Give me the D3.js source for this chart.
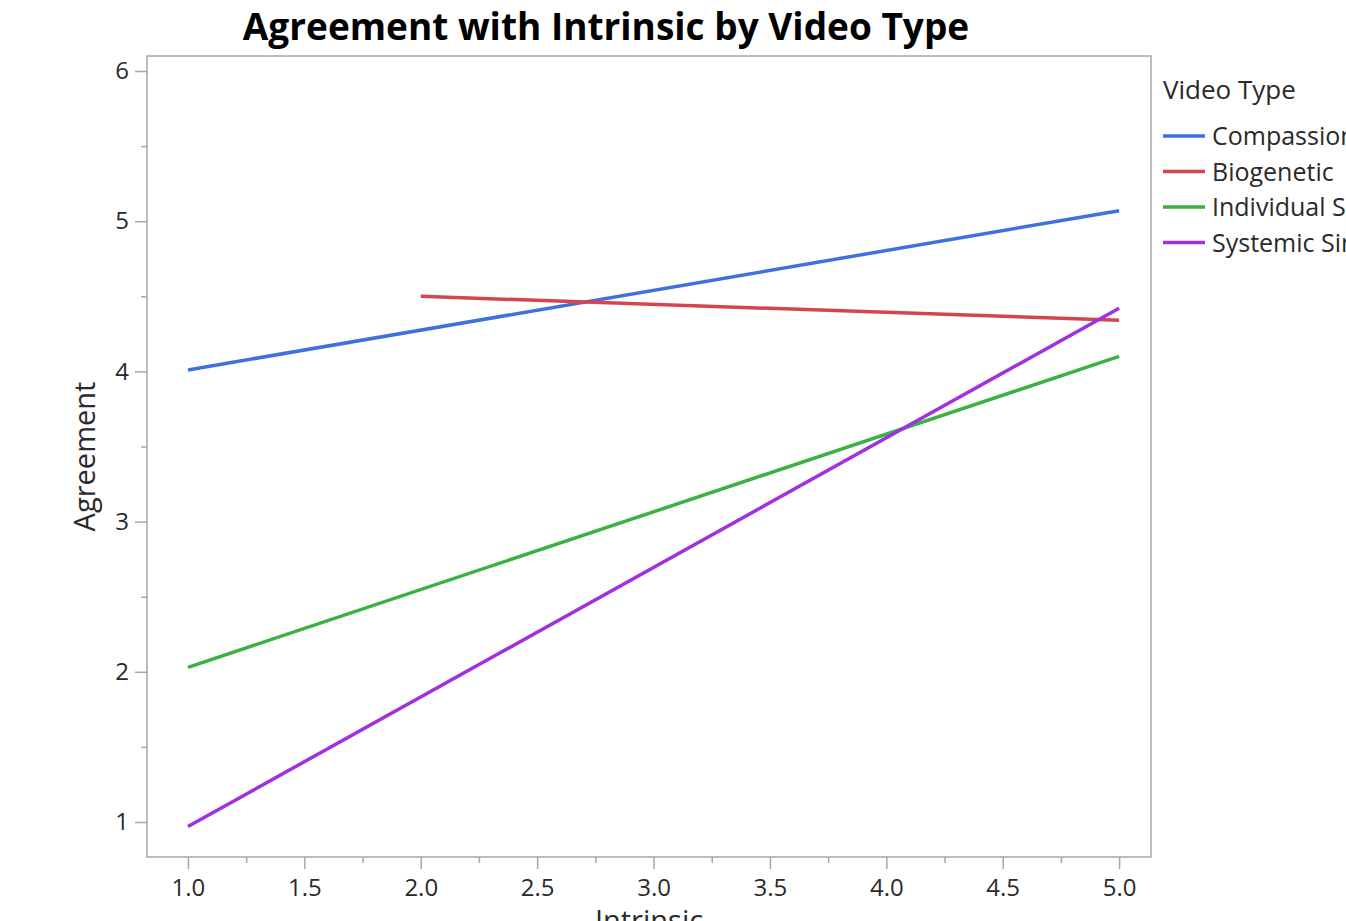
<!DOCTYPE html>
<html>
<head>
<meta charset="utf-8">
<script src="https://cdn.jsdelivr.net/npm/d3@7"></script>
<style>
  html, body { margin: 0; padding: 0; background: #fff; overflow: hidden; }
  svg { display: block; font-family: "Open Sans", "Noto Sans", sans-serif; }
</style>
</head>
<body>
<svg id="chart" width="1346" height="921"></svg>
<script>
// Fitted lines of Agreement on Intrinsic, one per video type
const seriesNames = ["Compassion", "Biogenetic", "Individual Sin", "Systemic Sin"];
const seriesColors = ["#4070e0", "#d64452", "#3bb143", "#a030e0"];
const startX = [1.0, 2.0, 1.0, 1.0];
const endX = [5.0, 5.0, 5.0, 5.0];
const startY = [4.01, 4.50, 2.03, 0.97];
const endY = [5.07, 4.34, 4.10, 4.42];

const xTicks = [1.0, 1.5, 2.0, 2.5, 3.0, 3.5, 4.0, 4.5, 5.0];
const xMinorTicks = [1.25, 1.75, 2.25, 2.75, 3.25, 3.75, 4.25, 4.75];
const yTicks = [1, 2, 3, 4, 5, 6];
const yMinorTicks = [1.5, 2.5, 3.5, 4.5, 5.5];

const svg = d3.select("#chart");
const frame = { left: 147, right: 1151, top: 56, bottom: 857 };

const x = d3.scaleLinear().domain([0.824, 5.137]).range([frame.left, frame.right]);
const y = d3.scaleLinear().domain([0.767, 6.1]).range([frame.bottom, frame.top]);

const axisColor = "#a6a6a6";
const textColor = "#2a2a2a";

// Title
svg.append("text")
  .attr("x", 606).attr("y", 40)
  .attr("text-anchor", "middle")
  .attr("font-size", 37).attr("font-weight", "bold")
  .attr("fill", "#000")
  .text("Agreement with Intrinsic by Video Type");

// Plot frame
svg.append("rect")
  .attr("x", frame.left).attr("y", frame.top)
  .attr("width", frame.right - frame.left).attr("height", frame.bottom - frame.top)
  .attr("fill", "none").attr("stroke", axisColor).attr("stroke-width", 1.5);

// X axis
const xAxis = svg.append("g").attr("transform", `translate(0,${frame.bottom})`);
xAxis.call(d3.axisBottom(x).tickValues(xTicks).tickFormat(d3.format(".1f")).tickSize(12).tickPadding(10));
xAxis.append("g").call(d3.axisBottom(x).tickValues(xMinorTicks).tickFormat("").tickSize(6));
xAxis.selectAll(".domain").remove();
xAxis.selectAll("line").attr("stroke", axisColor).attr("stroke-width", 1.5);
xAxis.selectAll("text").attr("font-size", 24).attr("fill", textColor).attr("font-family", "Open Sans, sans-serif");

// Y axis
const yAxis = svg.append("g").attr("transform", `translate(${frame.left},0)`);
yAxis.call(d3.axisLeft(y).tickValues(yTicks).tickFormat(d3.format("d")).tickSize(12).tickPadding(6));
yAxis.append("g").call(d3.axisLeft(y).tickValues(yMinorTicks).tickFormat("").tickSize(6));
yAxis.selectAll(".domain").remove();
yAxis.selectAll("line").attr("stroke", axisColor).attr("stroke-width", 1.5);
yAxis.selectAll("text").attr("font-size", 24).attr("fill", textColor).attr("font-family", "Open Sans, sans-serif");

// Axis titles
svg.append("text")
  .attr("transform", `translate(95,${(frame.top + frame.bottom) / 2}) rotate(-90)`)
  .attr("text-anchor", "middle")
  .attr("font-size", 29).attr("fill", textColor)
  .text("Agreement");

svg.append("text")
  .attr("x", (frame.left + frame.right) / 2).attr("y", 931)
  .attr("text-anchor", "middle")
  .attr("font-size", 29).attr("fill", textColor)
  .text("Intrinsic");

// Fitted lines
const lineData = seriesNames.map((name, i) => ({
  name, color: seriesColors[i],
  points: [[startX[i], startY[i]], [endX[i], endY[i]]]
}));
const line = d3.line().x(d => x(d[0])).y(d => y(d[1]));
const plot = svg.append("g");
plot.selectAll("path.fit")
  .data(lineData)
  .join("path")
  .attr("class", "fit")
  .attr("d", d => line(d.points))
  .attr("fill", "none")
  .attr("stroke", d => d.color)
  .attr("stroke-width", 3.5);

// Legend
const legend = svg.append("g").attr("transform", "translate(1163,0)");
legend.append("text")
  .attr("x", 0).attr("y", 99)
  .attr("font-size", 26).attr("fill", textColor)
  .text("Video Type");
const items = legend.selectAll("g.item")
  .data(lineData)
  .join("g")
  .attr("class", "item")
  .attr("transform", (d, i) => `translate(0,${136 + i * 35.5})`);
items.append("line")
  .attr("x1", 0).attr("x2", 42).attr("y1", 0).attr("y2", 0)
  .attr("stroke", d => d.color).attr("stroke-width", 3.5);
items.append("text")
  .attr("x", 49).attr("y", 9)
  .attr("font-size", 25).attr("fill", textColor)
  .text(d => d.name);
</script>
</body>
</html>
